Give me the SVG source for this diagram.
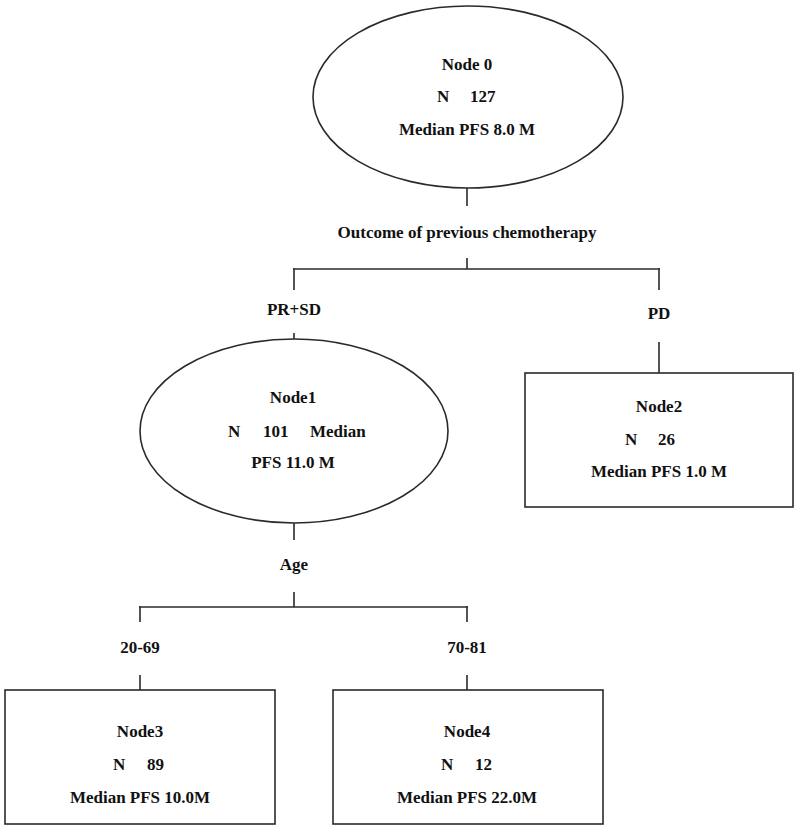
<svg xmlns="http://www.w3.org/2000/svg" width="801" height="829" viewBox="0 0 801 829">
<style>
  .shape { fill: #ffffff; stroke: #2a2a2a; stroke-width: 1.6; }
  .conn line { stroke: #2a2a2a; stroke-width: 1.6; }
  text { font-family: "Liberation Serif", "Times New Roman", serif; font-weight: bold; font-size: 17px; fill: #111111; }
  .c { text-anchor: middle; }
</style>
<rect x="0" y="0" width="801" height="829" fill="#ffffff"/>
<g id="connectors" class="conn">
  <line x1="467" y1="188" x2="467" y2="206"/>
  <line x1="467" y1="258" x2="467" y2="269"/>
  <line x1="293" y1="269" x2="660" y2="269"/>
  <line x1="294" y1="268.2" x2="294" y2="290"/>
  <line x1="659" y1="268.2" x2="659" y2="290"/>
  <line x1="294" y1="333" x2="294" y2="339"/>
  <line x1="659" y1="342" x2="659" y2="373"/>
  <line x1="294" y1="523" x2="294" y2="540"/>
  <line x1="294" y1="592" x2="294" y2="607"/>
  <line x1="139" y1="607" x2="468" y2="607"/>
  <line x1="140" y1="606.2" x2="140" y2="622"/>
  <line x1="467" y1="606.2" x2="467" y2="622"/>
  <line x1="140" y1="675" x2="140" y2="690"/>
  <line x1="467" y1="675" x2="467" y2="690"/>
  <text class="c" x="467" y="238">Outcome of previous chemotherapy</text>
  <text class="c" x="294" y="315">PR+SD</text>
  <text class="c" x="659" y="319">PD</text>
  <text class="c" x="294" y="570">Age</text>
  <text class="c" x="140" y="653">20-69</text>
  <text class="c" x="467" y="653">70-81</text>
</g>
<g id="node0">
  <ellipse class="shape" cx="468" cy="97" rx="155" ry="91"/>
  <text class="c" x="467" y="70">Node 0</text>
  <text x="437" y="102">N</text>
  <text x="470" y="102">127</text>
  <text class="c" x="467" y="135">Median PFS 8.0 M</text>
</g>
<g id="node1">
  <ellipse class="shape" cx="294" cy="431" rx="154" ry="92"/>
  <text class="c" x="293" y="403">Node1</text>
  <text x="228" y="437">N</text>
  <text x="263" y="437">101</text>
  <text x="310" y="437">Median</text>
  <text class="c" x="293" y="468">PFS 11.0 M</text>
</g>
<g id="node2">
  <rect class="shape" x="525" y="373" width="268" height="134"/>
  <text class="c" x="659" y="412">Node2</text>
  <text x="625" y="445">N</text>
  <text x="658" y="445">26</text>
  <text class="c" x="659" y="477">Median PFS 1.0 M</text>
</g>
<g id="node3">
  <rect class="shape" x="5" y="690" width="270" height="134"/>
  <text class="c" x="140" y="737">Node3</text>
  <text x="113" y="770">N</text>
  <text x="147" y="770">89</text>
  <text class="c" x="140" y="803">Median PFS 10.0M</text>
</g>
<g id="node4">
  <rect class="shape" x="333" y="690" width="270" height="134"/>
  <text class="c" x="467" y="737">Node4</text>
  <text x="441" y="770">N</text>
  <text x="475" y="770">12</text>
  <text class="c" x="467" y="803">Median PFS 22.0M</text>
</g>
</svg>
